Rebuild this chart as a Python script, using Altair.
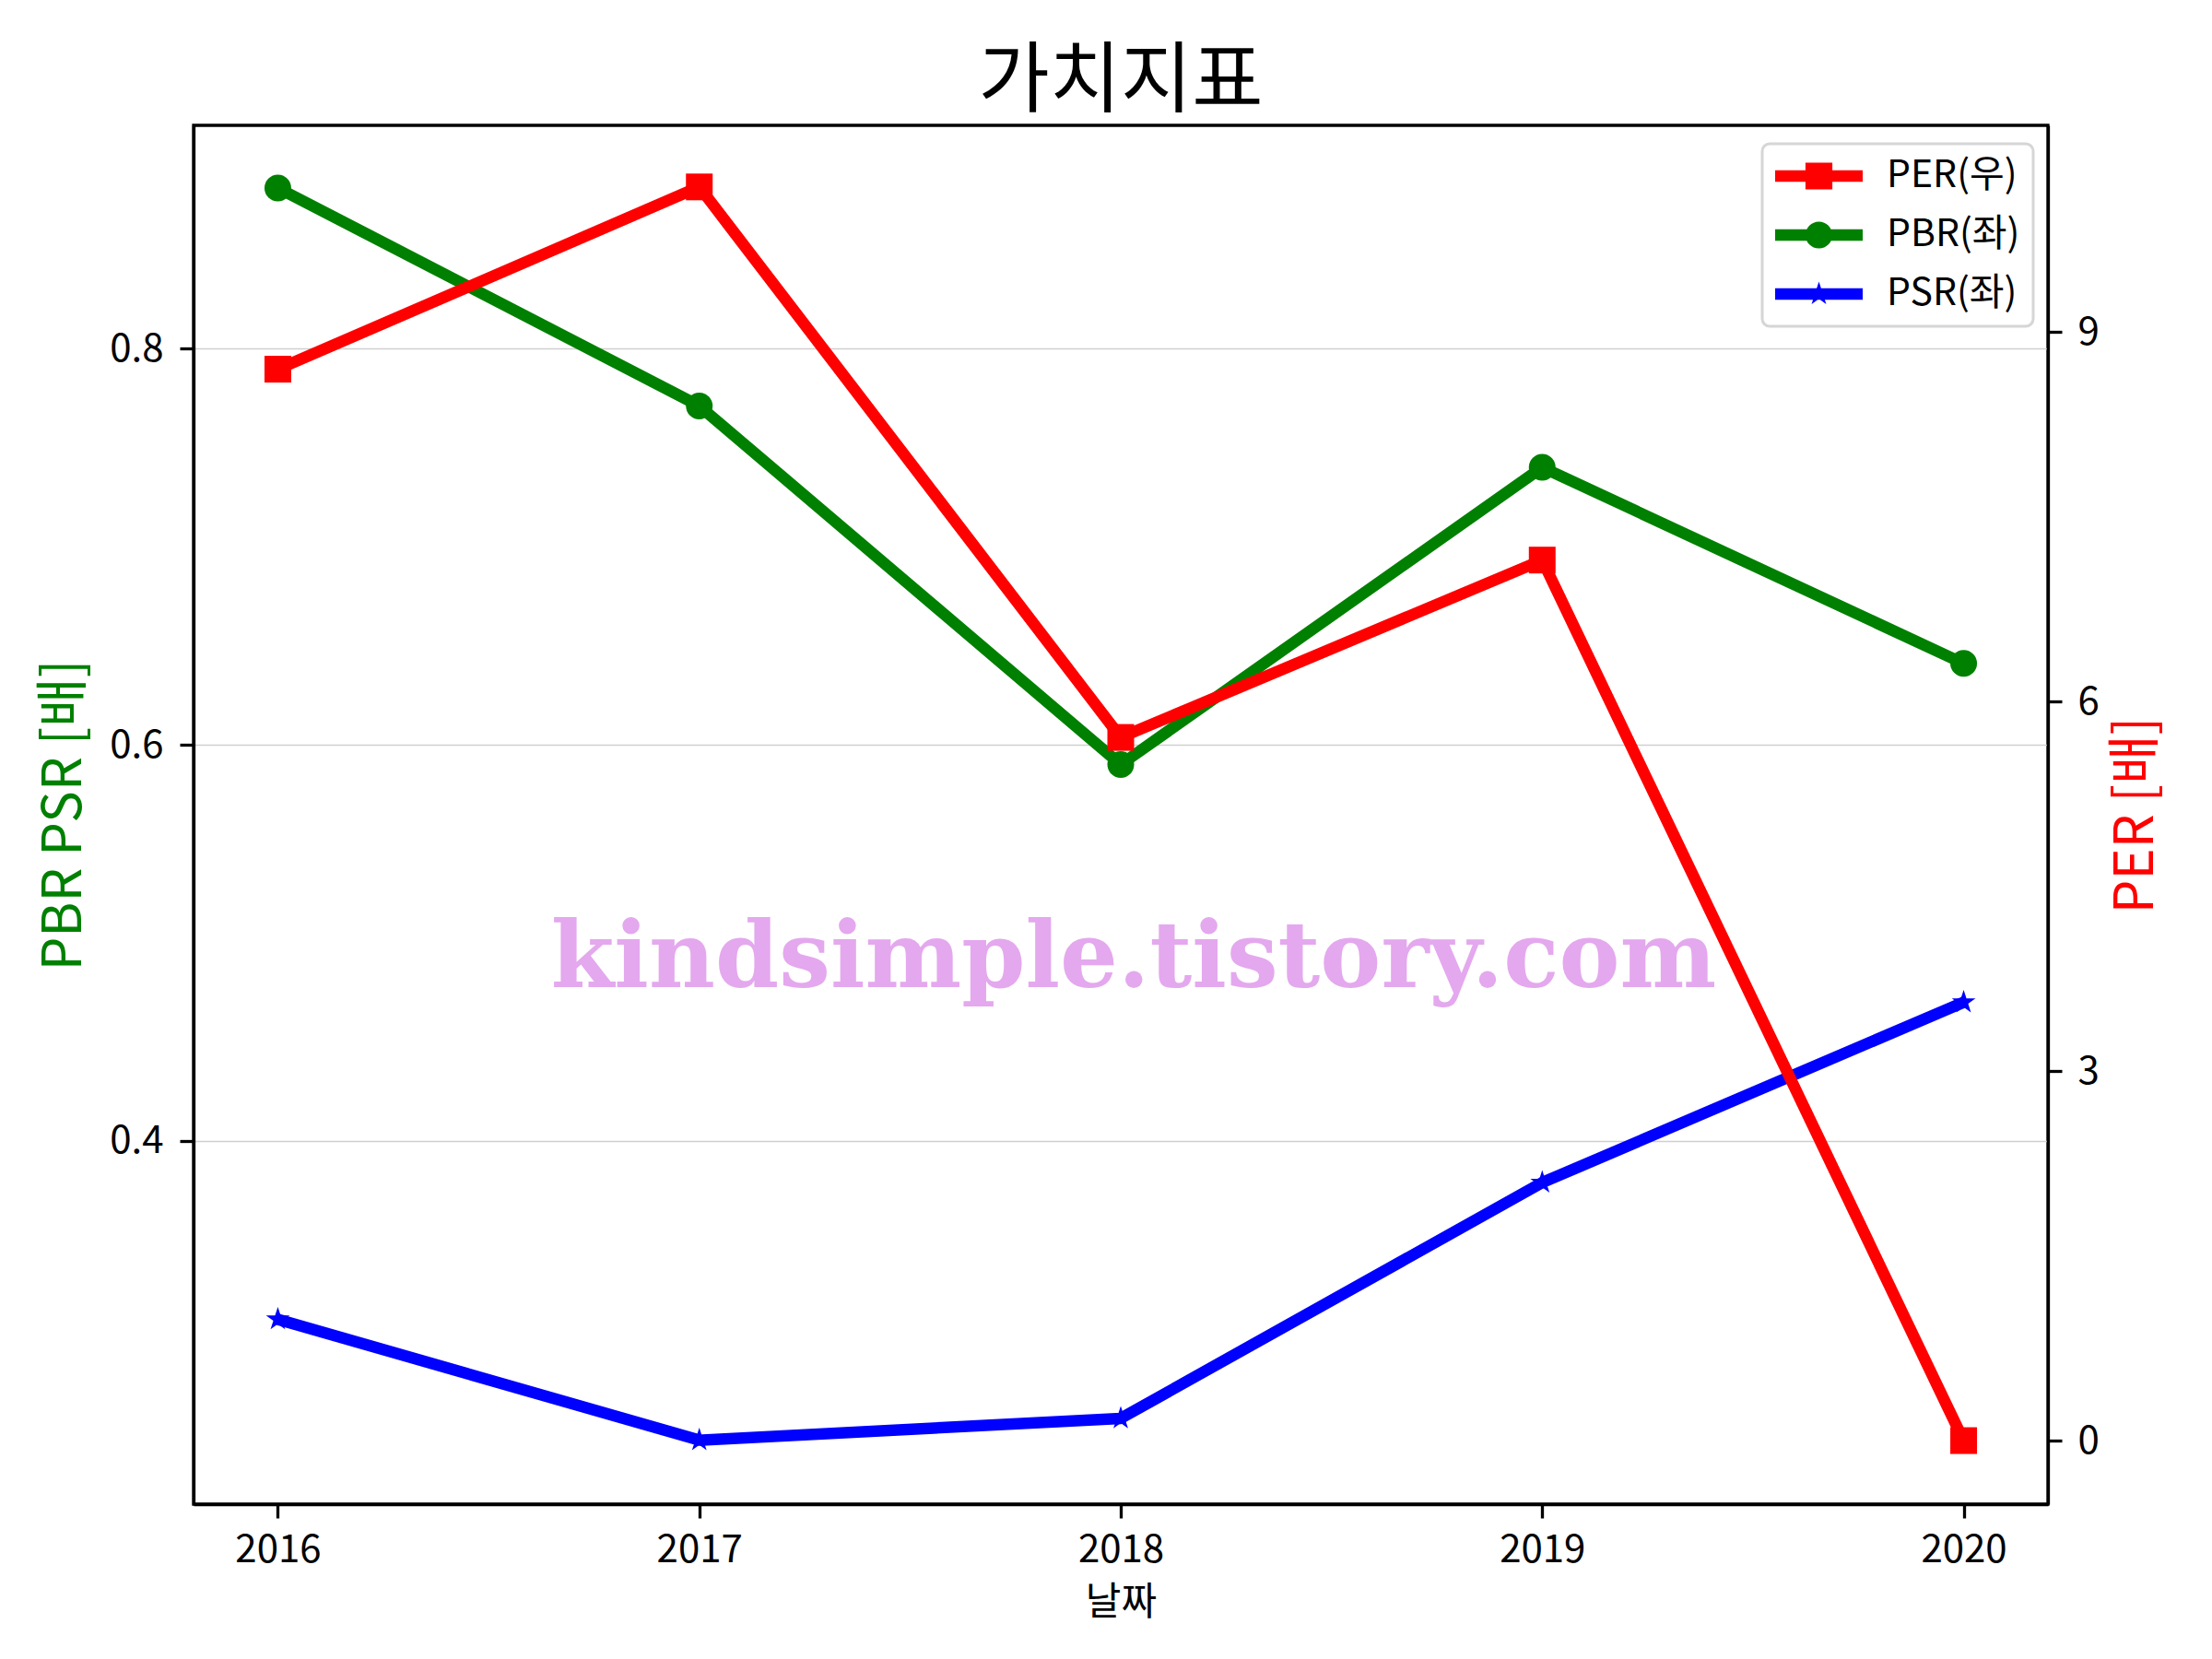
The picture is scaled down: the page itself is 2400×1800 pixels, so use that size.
import math
import altair as alt
import pandas as pd

# ---------------- data ----------------
years = [2016, 2017, 2018, 2019, 2020]
per_values = [8.70, 10.18, 5.71, 7.15, 0.0]
pbr_values = [0.881, 0.771, 0.590, 0.740, 0.641]
psr_values = [0.310, 0.249, 0.260, 0.379, 0.470]
series_names = ["PER(우)", "PBR(좌)", "PSR(좌)"]
series_colors = ["#ff0000", "#008000", "#0000ff"]
x_tick_values = [2016, 2017, 2018, 2019, 2020]
left_tick_values = [0.4, 0.6, 0.8]
right_tick_values = [0, 3, 6, 9]
title_text = "가치지표"
x_title = "날짜"
left_title = "PBR PSR [배]"
right_title = "PER [배]"
watermark_text = "kindsimple.tistory.com"

FONT = "Noto Sans CJK KR"
W, H = 2012, 1496
LW = 12.5
AXW = 3.3


def star_path(R, inner=0.381966):
    pts = []
    for k in range(10):
        ang = math.radians(-90 + 36 * k)
        rad = R if k % 2 == 0 else R * inner
        pts.append((rad * math.cos(ang), rad * math.sin(ang)))
    return "M" + "L".join(f"{px:.4f},{py:.4f}" for px, py in pts) + "Z"


# legend symbols: line + marker, units of sqrt(size)/2 = 47.5 px
U = 47.5
hh = 6.25 / U
sq = 14.6 / U
line_p = f"M-1,{-hh:.4f}H1V{hh:.4f}H-1Z"
leg_square = line_p + f"M{-sq:.4f},{-sq:.4f}H{sq:.4f}V{sq:.4f}H{-sq:.4f}Z"
leg_circle = line_p + (f"M{-sq:.4f},0A{sq:.4f} {sq:.4f} 0 1 1 {sq:.4f},0"
                       f"A{sq:.4f} {sq:.4f} 0 1 1 {-sq:.4f},0Z")
leg_star = line_p + star_path(13.5 / U)
legend_shapes = [leg_square, leg_circle, leg_star]

df_per = pd.DataFrame({"날짜": years, "value": per_values})
df_pbr = pd.DataFrame({"날짜": years, "value": pbr_values})
df_psr = pd.DataFrame({"날짜": years, "value": psr_values})
df_leg = pd.DataFrame({"series": series_names})
df_wm = pd.DataFrame({"t": [watermark_text]})

x_enc = alt.X(
    "날짜:Q",
    scale=alt.Scale(domain=[2015.8, 2020.2], nice=False, zero=False),
    axis=alt.Axis(
        values=x_tick_values, format="d", title=x_title, grid=False,
        labelPadding=14, labelFlush=False,
        titleX=W / 2, titleY=106, titleBaseline="middle", titleAlign="center",
        titleFontSize=42, titleFontWeight="normal",
    ),
)

left_axis = alt.Axis(
    values=left_tick_values, format=".1f", title=left_title, grid=True,
    orient="left", labelPadding=18,
    titleColor="#008000", titleFontSize=58, titleFontWeight="normal",
    titleAngle=270, titleX=-140, titleY=H / 2, titleAlign="center",
    titleBaseline="middle",
)
left_scale = alt.Scale(domain=[0.2167, 0.9126], nice=False, zero=False)

right_axis = alt.Axis(
    values=right_tick_values, format="d", title=right_title, grid=False,
    orient="right", labelPadding=17,
    titleColor="#ff0000", titleFontSize=58, titleFontWeight="normal",
    titleAngle=270, titleX=96, titleY=H / 2, titleAlign="center",
    titleBaseline="middle",
)
right_scale = alt.Scale(domain=[-0.516, 10.68], nice=False, zero=False)

y_left = alt.Y("value:Q", scale=left_scale, axis=left_axis)
y_right = alt.Y("value:Q", scale=right_scale, axis=right_axis)

pbr_line = alt.Chart(df_pbr).mark_line(
    color=series_colors[1], strokeWidth=LW, strokeJoin="round"
).encode(x=x_enc, y=y_left)
pbr_pts = alt.Chart(df_pbr).mark_point(
    filled=True, shape="circle", size=841, color=series_colors[1], opacity=1
).encode(x=x_enc, y=y_left)
psr_line = alt.Chart(df_psr).mark_line(
    color=series_colors[2], strokeWidth=LW, strokeJoin="round"
).encode(x=x_enc, y=y_left)
psr_pts = alt.Chart(df_psr).mark_point(
    filled=True, shape=star_path(1.0), size=729, color=series_colors[2], opacity=1
).encode(x=x_enc, y=y_left)

left_group = alt.layer(pbr_line, pbr_pts, psr_line, psr_pts)

per_line = alt.Chart(df_per).mark_line(
    color=series_colors[0], strokeWidth=LW, strokeJoin="round"
).encode(x=x_enc, y=y_right)
per_pts = alt.Chart(df_per).mark_point(
    filled=True, shape="square", size=841, color=series_colors[0], opacity=1
).encode(x=x_enc, y=y_right)

right_group = alt.layer(per_line, per_pts)

legend_props = dict(
    title=None, orient="none", legendX=1702, legendY=20,
    fillColor="white", strokeColor="#d6d6d6", cornerRadius=8,
    padding=14, rowPadding=22, labelFont=FONT, labelFontSize=41,
    labelColor="black", labelOffset=26, labelLimit=0,
    symbolSize=9025, symbolOpacity=1, symbolStrokeWidth=0, clipHeight=42,
)
legend_layer = alt.Chart(df_leg).mark_point(filled=True, opacity=0).encode(
    x=alt.value(0), y=alt.value(0),
    color=alt.Color("series:N", scale=alt.Scale(domain=series_names, range=series_colors),
                    legend=alt.Legend(**legend_props)),
    shape=alt.Shape("series:N", scale=alt.Scale(domain=series_names, range=legend_shapes),
                    legend=alt.Legend(**legend_props)),
)

watermark = alt.Chart(df_wm).mark_text(
    font="DejaVu Serif", fontWeight="bold", fontSize=99, color="#e4a8ee",
    align="center", baseline="alphabetic",
).encode(text="t:N", x=alt.value(1020), y=alt.value(935))

chart = (
    alt.layer(left_group, right_group, legend_layer, watermark)
    .resolve_scale(y="independent")
    .properties(
        width=W, height=H,
        padding={"left": 202, "top": 128, "right": 170, "bottom": 150},
        autosize=alt.AutoSizeParams(type="none"),
        title=alt.TitleParams(
            title_text, font=FONT, fontSize=84, fontWeight="normal", color="black",
            anchor="middle", baseline="alphabetic", offset=23, frame="group", dy=87,
        ),
    )
    .configure(font=FONT)
    .configure_view(stroke="black", strokeWidth=AXW)
    .configure_axis(
        labelFont=FONT, labelFontSize=42, labelColor="black",
        titleFont=FONT, titleColor="black",
        domainColor="black", domainWidth=AXW,
        tickColor="black", tickWidth=AXW, tickSize=15,
        gridColor="#d0d0d0", gridWidth=1.5,
    )
    .configure_legend(strokeWidth=3)
)

chart.save("out.html", embed_options={"renderer": "svg", "actions": False})
